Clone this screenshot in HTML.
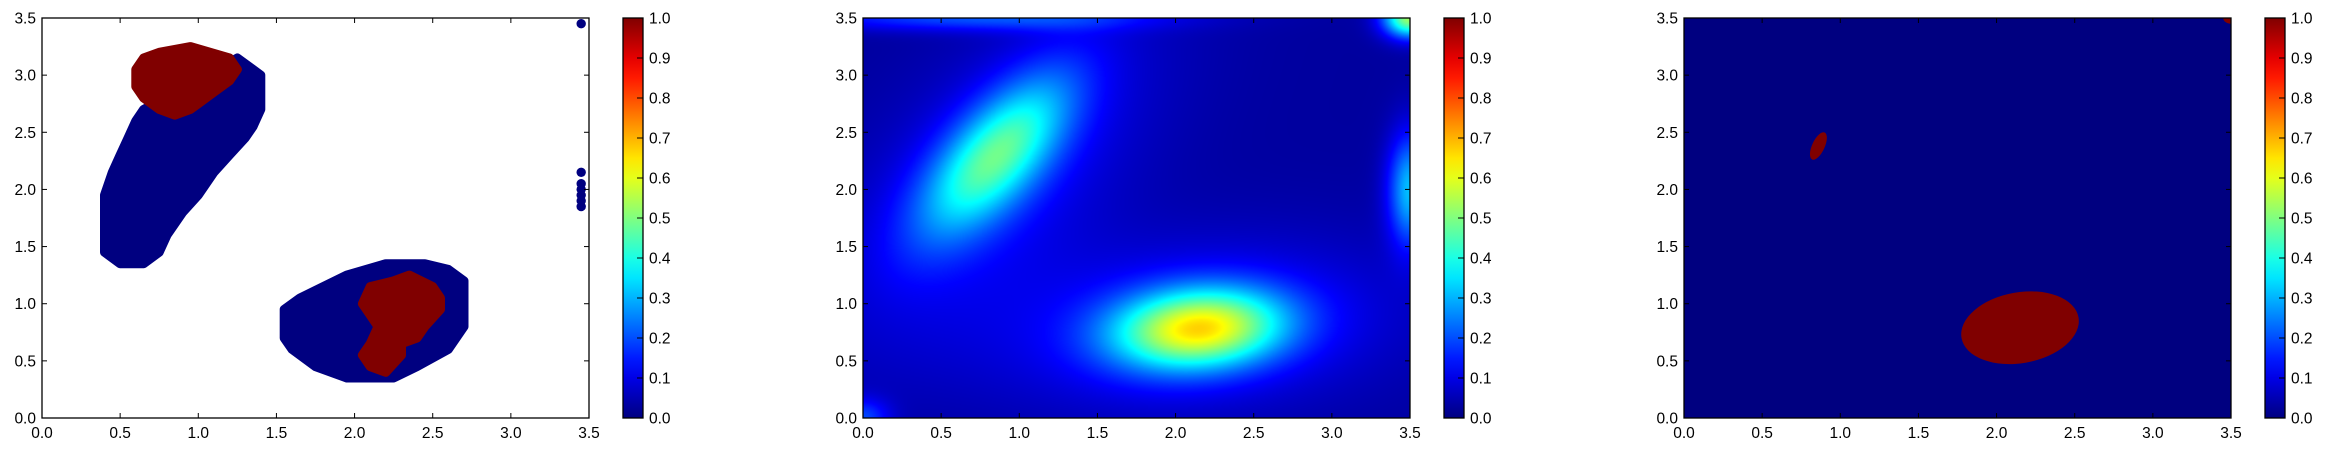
<!DOCTYPE html>
<html><head><meta charset="utf-8">
<style>
html,body{margin:0;padding:0;background:#fff;width:2326px;height:452px;overflow:hidden;}
svg{position:absolute;left:0;top:0;}
canvas{position:absolute;}
text{font-family:"Liberation Sans","DejaVu Sans",sans-serif;font-size:15.5px;fill:#000;}
</style></head>
<body>
<canvas id="heat" width="547" height="400" style="left:863px;top:18px;width:547px;height:400px"></canvas>
<svg id="fig" width="2326" height="452"></svg>
<script>
// ---- data ----
const xTicks = [0, 0.5, 1.0, 1.5, 2.0, 2.5, 3.0, 3.5];
const yTicks = [0, 0.5, 1.0, 1.5, 2.0, 2.5, 3.0, 3.5];
const cbTicks = [0, 0.1, 0.2, 0.3, 0.4, 0.5, 0.6, 0.7, 0.8, 0.9, 1.0];
// panel 1 clusters (outline vertices in data units)
const blueAX = [0.4,0.45,0.5,0.55,0.6,0.65,1.25,1.4,1.4,1.35,1.3,1.2,1.1,1.0,0.9,0.8,0.75,0.65,0.5,0.4];
const blueAY = [1.95,2.15,2.3,2.45,2.6,2.7,3.15,3.0,2.7,2.55,2.45,2.3,2.15,1.95,1.8,1.6,1.45,1.35,1.35,1.45];
const redAX = [0.6,0.65,0.75,0.95,1.2,1.25,1.2,1.1,1.0,0.95,0.85,0.75,0.65,0.6];
const redAY = [3.05,3.15,3.2,3.25,3.15,3.05,2.95,2.85,2.75,2.7,2.65,2.7,2.8,2.9];
const blueBX = [1.55,1.65,1.8,1.95,2.2,2.45,2.6,2.7,2.7,2.6,2.4,2.25,1.95,1.75,1.6,1.55];
const blueBY = [0.95,1.05,1.15,1.25,1.35,1.35,1.3,1.2,0.8,0.6,0.45,0.35,0.35,0.45,0.6,0.7];
const redBX = [2.05,2.1,2.25,2.35,2.5,2.55,2.55,2.45,2.4,2.3,2.3,2.2,2.1,2.05,2.1,2.15,2.1];
const redBY = [1.0,1.15,1.2,1.25,1.15,1.05,0.95,0.8,0.7,0.65,0.55,0.4,0.45,0.55,0.65,0.8,0.9];
const outlierX = [3.45,3.45,3.45,3.45,3.45,3.45,3.45];
const outlierY = [3.45,1.85,1.9,1.95,2.0,2.05,2.15];
// panel 2 density components
const compX = [0.85, 0.85, 2.15, 2.1, 3.5, 3.5, 0.7, 0.0];
const compY = [2.3, 2.1, 0.78, 0.8, 2.0, 3.5, 3.5, 0.0];
const compAmp = [0.36, 0.1, 0.52, 0.12, 0.28, 0.5, 0.16, 0.15];
const compSU = [0.55, 1.1, 0.38, 0.9, 0.35, 0.12, 0.8, 0.12];
const compSV = [0.22, 0.5, 0.24, 0.5, 0.1, 0.12, 0.08, 0.12];
const compAng = [60, 60, 8, 8, 90, 0, 0, 0];
const baseLevel = 0.03;
// panel 3 predicted regions (ellipses)
const ellX = [2.15, 0.86, 3.5];
const ellY = [0.79, 2.38, 3.5];
const ellRX = [0.38, 0.04, 0.05];
const ellRY = [0.31, 0.13, 0.05];
const ellAng = [10, -25, 0];

// ---- helpers ----
const NS = 'http://www.w3.org/2000/svg';
const svg = document.getElementById('fig');
const AW = 547, AH = 400, TOP = 18;
const panelLeft = [42, 863, 1684];
function sx(p, v){ return panelLeft[p] + v / 3.5 * AW; }
function sy(v){ return TOP + AH - v / 3.5 * AH; }
function mk(tag, attrs, parent){
  const e = document.createElementNS(NS, tag);
  for (const k in attrs) e.setAttribute(k, attrs[k]);
  (parent || svg).appendChild(e);
  return e;
}
function jet(v){
  v = Math.max(0, Math.min(1, v));
  const r = Math.max(0, Math.min(1, 1.5 - Math.abs(4*v - 3)));
  const g = Math.max(0, Math.min(1, 1.5 - Math.abs(4*v - 2)));
  const b = Math.max(0, Math.min(1, 1.5 - Math.abs(4*v - 1)));
  return [Math.round(r*255), Math.round(g*255), Math.round(b*255)];
}
function rgb(c){ return 'rgb(' + c.join(',') + ')'; }
const BLUE = rgb(jet(0)), RED = rgb(jet(1));

// ---- panel 2 heatmap ----
(function(){
  const cv = document.getElementById('heat');
  const ctx = cv.getContext('2d');
  const img = ctx.createImageData(AW, AH);
  for (let j = 0; j < AH; j++){
    const y = 3.5 - (j + 0.5) / AH * 3.5;
    for (let i = 0; i < AW; i++){
      const x = (i + 0.5) / AW * 3.5;
      let v = baseLevel;
      for (let k = 0; k < compX.length; k++){
        const a = compAng[k] * Math.PI / 180;
        const dx = x - compX[k], dy = y - compY[k];
        const u = dx*Math.cos(a) + dy*Math.sin(a);
        const w = -dx*Math.sin(a) + dy*Math.cos(a);
        v += compAmp[k] * Math.exp(-0.5*((u/compSU[k])**2 + (w/compSV[k])**2));
      }
      const c = jet(v);
      const o = (j*AW + i)*4;
      img.data[o] = c[0]; img.data[o+1] = c[1]; img.data[o+2] = c[2]; img.data[o+3] = 255;
    }
  }
  ctx.putImageData(img, 0, 0);
})();

// ---- panel 1 scatter clusters ----
function poly(xs, ys, color, name){
  const pts = xs.map((x, i) => sx(0, x).toFixed(1) + ',' + sy(ys[i]).toFixed(1)).join(' ');
  const e = mk('polygon', {points: pts, fill: color, stroke: color, 'stroke-width': 9, 'stroke-linejoin': 'round'});
  
  
}
poly(blueAX, blueAY, BLUE, 'cluster-a-class-0');
poly(redAX, redAY, RED, 'cluster-a-class-1');
poly(blueBX, blueBY, BLUE, 'cluster-b-class-0');
poly(redBX, redBY, RED, 'cluster-b-class-1');
outlierX.forEach((x, i) => {
  const e = mk('circle', {cx: sx(0, x), cy: sy(outlierY[i]), r: 4.7, fill: BLUE});
  
  
});

// ---- panel 3 ----
(function(){
  const clip = mk('clipPath', {id: 'clip3'});
  mk('rect', {x: panelLeft[2], y: TOP, width: AW, height: AH}, clip);
  const bg = mk('rect', {x: panelLeft[2], y: TOP, width: AW, height: AH, fill: BLUE});
  
  
  const g = mk('g', {'clip-path': 'url(#clip3)'});
  ellX.forEach((x, i) => {
    const cx = sx(2, x), cy = sy(ellY[i]);
    const e = mk('ellipse', {cx: cx, cy: cy, rx: ellRX[i]/3.5*AW, ry: ellRY[i]/3.5*AH, fill: RED,
      transform: 'rotate(' + (-ellAng[i]) + ' ' + cx + ' ' + cy + ')'}, g);
    
    
  });
})();

// ---- axes, ticks, colorbars ----
const cbarLeft = [623, 1444, 2265];
for (let p = 0; p < 3; p++){
  const L = panelLeft[p];
  const fr = mk('rect', {x: L, y: TOP, width: AW, height: AH, fill: 'none', stroke: '#000', 'stroke-width': 1.3});
  
  
  xTicks.forEach(t => {
    const x = sx(p, t);
    mk('line', {x1: x, x2: x, y1: TOP+AH, y2: TOP+AH-5, stroke: '#000', 'stroke-width': 1});
    mk('line', {x1: x, x2: x, y1: TOP, y2: TOP+5, stroke: '#000', 'stroke-width': 1});
    const tx = mk('text', {x: x, y: 438, 'text-anchor': 'middle'});
    tx.textContent = t.toFixed(1);
    
    
  });
  yTicks.forEach(t => {
    const y = sy(t);
    mk('line', {x1: L, x2: L+5, y1: y, y2: y, stroke: '#000', 'stroke-width': 1});
    mk('line', {x1: L+AW, x2: L+AW-5, y1: y, y2: y, stroke: '#000', 'stroke-width': 1});
    const ty = mk('text', {x: L-6, y: y+5.5, 'text-anchor': 'end'});
    ty.textContent = t.toFixed(1);
    
    
  });
  const CL = cbarLeft[p], CW = 20;
  const gid = 'jet' + p;
  const grad = mk('linearGradient', {id: gid, x1: 0, y1: 1, x2: 0, y2: 0});
  for (let s = 0; s <= 20; s++){
    mk('stop', {offset: s/20, 'stop-color': rgb(jet(s/20))}, grad);
  }
  const cb = mk('rect', {x: CL, y: TOP, width: CW, height: AH, fill: 'url(#' + gid + ')', stroke: '#000', 'stroke-width': 1.3});
  
  
  cbTicks.forEach(t => {
    const y = TOP + AH - t * AH;
    mk('line', {x1: CL+CW, x2: CL+CW-6, y1: y, y2: y, stroke: '#000', 'stroke-width': 1});
    const tl = mk('text', {x: CL+CW+6, y: y+5.5});
    tl.textContent = t.toFixed(1);
    
    
  });
}
</script>
</body></html>
